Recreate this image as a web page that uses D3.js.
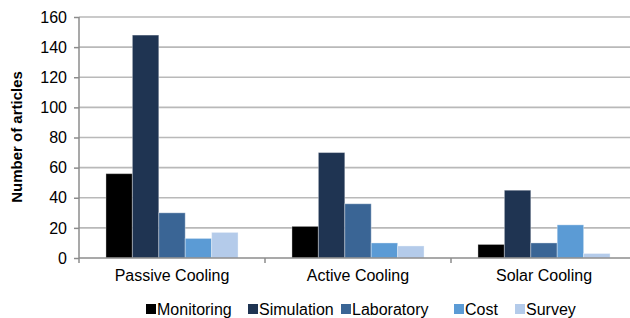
<!DOCTYPE html>
<html>
<head>
<meta charset="utf-8">
<script src="https://cdn.jsdelivr.net/npm/d3@7"></script>
<style>
  body { margin: 0; background: #fff; }
  svg { display: block; font-family: "Liberation Sans", Arial, sans-serif; }
</style>
</head>
<body>
<main></main>
<script>
const categories = ["Passive Cooling", "Active Cooling", "Solar Cooling"];
const seriesNames = ["Monitoring", "Simulation", "Laboratory", "Cost", "Survey"];
const monitoring = [56, 21, 9];
const simulation = [148, 70, 45];
const laboratory = [30, 36, 10];
const cost = [13, 10, 22];
const survey = [17, 8, 3];
const yTicks = [0, 20, 40, 60, 80, 100, 120, 140, 160];

const seriesValues = [monitoring, simulation, laboratory, cost, survey];
const colors = ["#000000", "#1f3452", "#3a6595", "#5b9bd5", "#b4cbea"];

const w = 630;
const h = 318;
const plotLeft = 79, plotRight = 637, plotTop = 17, plotBottom = 258;

const svg = d3.select("main")
  .append("svg")
  .attr("width", w)
  .attr("height", h);

const x0 = d3.scaleBand()
  .domain(categories)
  .range([plotLeft, plotRight])
  .paddingInner(0)
  .paddingOuter(0);

const x1 = d3.scaleBand()
  .domain(seriesNames)
  .range([0, x0.bandwidth()])
  .paddingInner(0)
  .paddingOuter(1.02);

const y = d3.scaleLinear()
  .domain([0, 160])
  .range([plotBottom, plotTop]);

const color = d3.scaleOrdinal()
  .domain(seriesNames)
  .range(colors);

// gridlines
svg.append("g")
  .selectAll("line")
  .data(yTicks.filter(d => d > 0))
  .enter()
  .append("line")
  .attr("x1", plotLeft)
  .attr("x2", plotRight)
  .attr("y1", d => y(d))
  .attr("y2", d => y(d))
  .attr("stroke", "#b9b9b9")
  .attr("stroke-width", 1.6);

// bars
const rows = [];
categories.forEach((c, i) => {
  seriesNames.forEach((s, j) => rows.push({ cat: c, series: s, value: seriesValues[j][i] }));
});

svg.append("g")
  .selectAll("rect")
  .data(rows)
  .enter()
  .append("rect")
  .attr("x", d => x0(d.cat) + x1(d.series))
  .attr("y", d => y(d.value))
  .attr("width", x1.bandwidth())
  .attr("height", d => y(0) - y(d.value))
  .attr("fill", d => color(d.series))
  .attr("stroke", "rgba(255,255,255,0.35)")
  .attr("stroke-width", 1);

// y axis
const yAxis = d3.axisLeft(y)
  .tickValues(yTicks)
  .tickSize(5)
  .tickPadding(7);

const gy = svg.append("g")
  .attr("transform", `translate(${plotLeft},0)`)
  .call(yAxis);
gy.select(".domain").remove();
gy.append("line")
  .attr("x1", 0).attr("x2", 0)
  .attr("y1", plotTop).attr("y2", plotBottom + 5)
  .attr("stroke", "#8c8c8c")
  .attr("stroke-width", 1.5);
gy.selectAll(".tick line").attr("stroke", "#8c8c8c").attr("stroke-width", 1.5);
gy.selectAll(".tick text")
  .attr("fill", "#000")
  .style("font-size", "16px")
  .style("font-family", "Liberation Sans, Arial, sans-serif");

// x axis
const gx = svg.append("g");
gx.append("line")
  .attr("x1", plotLeft).attr("x2", plotRight)
  .attr("y1", plotBottom).attr("y2", plotBottom)
  .attr("stroke", "#8c8c8c")
  .attr("stroke-width", 1.5);
gx.selectAll(".cat-tick")
  .data(categories.slice(1))
  .enter()
  .append("line")
  .attr("class", "cat-tick")
  .attr("x1", d => x0(d)).attr("x2", d => x0(d))
  .attr("y1", plotBottom).attr("y2", plotBottom + 5)
  .attr("stroke", "#8c8c8c")
  .attr("stroke-width", 1.5);
gx.selectAll("text")
  .data(categories)
  .enter()
  .append("text")
  .attr("x", d => x0(d) + x0.bandwidth() / 2)
  .attr("y", 281)
  .attr("text-anchor", "middle")
  .style("font-size", "16px")
  .text(d => d);

// y title
svg.append("text")
  .attr("transform", "translate(22,137)rotate(-90)")
  .attr("text-anchor", "middle")
  .style("font-size", "15px")
  .style("font-weight", "bold")
  .text("Number of articles");

// legend
const legendX = [146, 248, 341, 454, 515];
const legend = svg.append("g")
  .selectAll("g")
  .data(seriesNames)
  .enter()
  .append("g")
  .attr("transform", (d, i) => `translate(${legendX[i]},0)`);

legend.append("rect")
  .attr("x", 0)
  .attr("y", 304)
  .attr("width", 10)
  .attr("height", 10)
  .attr("fill", d => color(d));

legend.append("text")
  .attr("x", 11)
  .attr("y", 314.5)
  .style("font-size", "16px")
  .text(d => d);
</script>
</body>
</html>
